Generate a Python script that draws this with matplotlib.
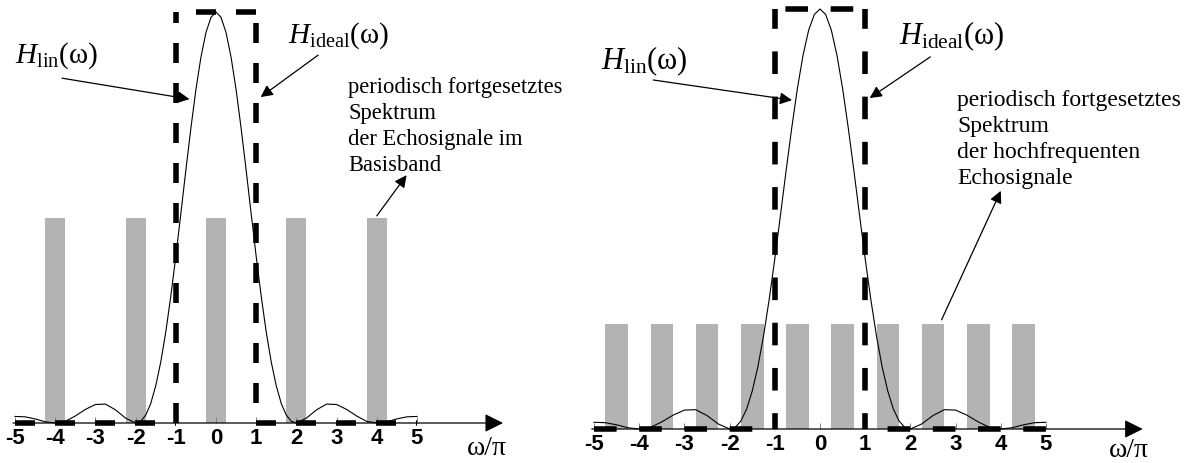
import matplotlib.pyplot as plt
import numpy as np

plt.rcParams['mathtext.fontset'] = 'custom'
plt.rcParams['mathtext.rm'] = 'Liberation Serif'
plt.rcParams['mathtext.it'] = 'Liberation Serif:italic'
plt.rcParams['font.family'] = ['Liberation Serif', 'DejaVu Serif']

# interpolator response H_lin over omega/pi
w_pi = [-5.0, -4.75, -4.5, -4.25, -4.0, -3.75, -3.5, -3.25, -3.0, -2.75, -2.5, -2.25,
        -2.0, -1.875, -1.75, -1.625, -1.5, -1.375, -1.25, -1.125, -1.0, -0.875, -0.75,
        -0.625, -0.5, -0.375, -0.25, -0.125, 0.0, 0.125, 0.25, 0.375, 0.5, 0.625, 0.75,
        0.875, 1.0, 1.125, 1.25, 1.375, 1.5, 1.625, 1.75, 1.875, 2.0, 2.25, 2.5, 2.75,
        3.0, 3.25, 3.5, 3.75, 4.0, 4.25, 4.5, 4.75, 5.0]
h_lin = [0.016, 0.015, 0.010, 0.003, 0.000, 0.004, 0.017, 0.033, 0.045, 0.046, 0.032, 0.012,
         0.000, 0.004, 0.019, 0.047, 0.090, 0.148, 0.221, 0.308, 0.405, 0.509, 0.615,
         0.717, 0.811, 0.890, 0.950, 0.987, 1.000, 0.987, 0.950, 0.890, 0.811, 0.717, 0.615,
         0.509, 0.405, 0.308, 0.221, 0.148, 0.090, 0.047, 0.019, 0.004, 0.000, 0.012, 0.032, 0.046,
         0.045, 0.033, 0.017, 0.004, 0.000, 0.003, 0.010, 0.015, 0.016]

# ideal lowpass, cutoff at +-1
ideal_edge = 1.0
ideal_gain = 1.0

ticks = [-5, -4, -3, -2, -1, 0, 1, 2, 3, 4, 5]
tick_labels = ['-5', '-4', '-3', '-2', '-1', '0', '1', '2', '3', '4', '5']

# spectral lines: baseband echoes (left), high-frequency echoes (right)
base_pos = [-4, -2, 0, 2, 4]
base_height = 0.5
hf_pos = [-4.5, -3.5, -2.5, -1.5, -0.5, 0.5, 1.5, 2.5, 3.5, 4.5]
hf_height = 0.25
bar_width = 0.5

lines_base = ['periodisch fortgesetztes', 'Spektrum', 'der Echosignale im', 'Basisband']
lines_hf = ['periodisch fortgesetztes', 'Spektrum', 'der hochfrequenten', 'Echosignale']

W, H = 1187, 464
fig = plt.figure(figsize=(W / 100, H / 100), dpi=100)


def make_panel(x0, unit, y0, yunit, ylim):
    # x0, y0: pixel position of the origin, unit/yunit: pixels per data unit
    xlim = (-5.3, 7.5)
    left = x0 + xlim[0] * unit
    bottom = (H - y0) + ylim[0] * yunit
    ax = fig.add_axes([left / W, bottom / H, (xlim[1] - xlim[0]) * unit / W,
                       (ylim[1] - ylim[0]) * yunit / H])
    ax.set_xlim(xlim)
    ax.set_ylim(ylim)
    for s in ['left', 'right', 'top']:
        ax.spines[s].set_visible(False)
    ax.spines['bottom'].set_position(('data', 0))
    ax.spines['bottom'].set_visible(False)
    ax.set_yticks([])
    ax.set_xticks(ticks)
    ax.set_xticklabels(tick_labels, fontweight='bold', fontsize=16,
                       family=['Liberation Sans', 'DejaVu Sans'])
    ax.tick_params(axis='x', direction='in', length=4, width=0.7, color='0.5', pad=3)
    ax.patch.set_alpha(0)
    ax.annotate('', xy=(7.14, 0), xytext=(-5.05, 0),
                arrowprops=dict(arrowstyle='-|>', color='k', lw=0.9,
                                mutation_scale=28, shrinkA=0, shrinkB=0), zorder=2)
    return ax


def draw_ideal(ax, dash, offs):
    # offs: dash offsets for left base, left edge, top, right edge, right base
    kw = dict(color='k', lw=4, solid_capstyle='butt', dash_capstyle='butt', zorder=4)
    e, g = ideal_edge, ideal_gain
    segs = [([-5, -e], [0, 0]), ([-e, -e], [0, g]), ([-e, e], [g, g]),
            ([e, e], [0, g]), ([e, 5], [0, 0])]
    for (xs, ys), off in zip(segs, offs):
        ax.plot(xs, ys, linestyle=(off * dash, (dash, dash)), **kw)


def text_block(ax, x, y, lines, step, size):
    for i, s in enumerate(lines):
        ax.text(x, y - i * step, s, fontsize=size, ha='left', va='baseline')


arrow_kw = dict(arrowstyle='-|>', color='k', lw=0.9, mutation_scale=18, shrinkA=0, shrinkB=0)

# left: baseband
ax1 = make_panel(216, 40.2, 424, 411, (-0.09, 1.02))
ax1.bar(base_pos, [base_height] * len(base_pos), width=bar_width, color='#b3b3b3', zorder=1)
ax1.plot(w_pi, h_lin, color='k', lw=0.8, zorder=3)
draw_ideal(ax1, 3.6, [0, 0, 1.0, 1.0, 0])
ax1.text(-5.0, 0.878, r'$H_{\mathrm{lin}}\mathrm{(ω)}$', fontsize=21, ha='left', va='baseline')
ax1.text(1.8, 0.929, r'$H_{\mathrm{ideal}}\mathrm{(ω)}$', fontsize=21, ha='left', va='baseline')
ax1.annotate('', xy=(-0.66, 0.788), xytext=(-3.83, 0.839), arrowprops=arrow_kw)
ax1.annotate('', xy=(1.11, 0.793), xytext=(2.54, 0.895), arrowprops=arrow_kw)
text_block(ax1, 3.29, 0.805, lines_base, 0.063, 16.3)
ax1.annotate('', xy=(4.74, 0.603), xytext=(4.0, 0.504), arrowprops=arrow_kw)
ax1.text(6.73, -0.06, 'ω/π', fontsize=20, ha='center', va='center')

# right: high-frequency echoes
ax2 = make_panel(820, 45.2, 430, 420, (-0.07, 1.025))
ax2.bar(hf_pos, [hf_height] * len(hf_pos), width=bar_width, color='#b3b3b3', zorder=1)
ax2.plot(w_pi, h_lin, color='k', lw=0.8, zorder=3)
draw_ideal(ax2, 4.07, [0, 0.3, 1.54, 0.3, 1.0])
ax2.text(-4.85, 0.86, r'$H_{\mathrm{lin}}\mathrm{(ω)}$', fontsize=22, ha='left', va='baseline')
ax2.text(1.74, 0.919, r'$H_{\mathrm{ideal}}\mathrm{(ω)}$', fontsize=22, ha='left', va='baseline')
ax2.annotate('', xy=(-0.62, 0.783), xytext=(-3.69, 0.831), arrowprops=arrow_kw)
ax2.annotate('', xy=(1.10, 0.788), xytext=(2.44, 0.886), arrowprops=arrow_kw)
text_block(ax2, 3.03, 0.771, lines_hf, 0.062, 17)
ax2.annotate('', xy=(4.0, 0.567), xytext=(2.69, 0.26), arrowprops=arrow_kw)
ax2.text(6.83, -0.05, 'ω/π', fontsize=20, ha='center', va='center')

fig.savefig('out.png', dpi=100)
